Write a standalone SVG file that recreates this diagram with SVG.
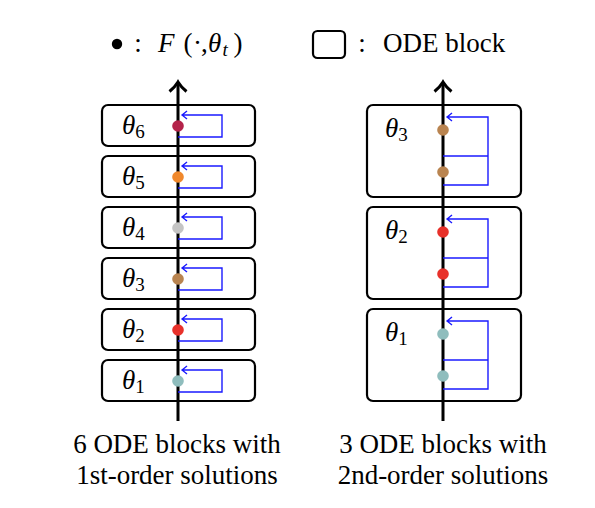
<svg xmlns="http://www.w3.org/2000/svg" width="595" height="508" viewBox="0 0 595 508" font-family="'Liberation Serif', 'Times New Roman', serif">
<defs>
<style>
text, tspan{font-family:'Liberation Serif','Times New Roman',serif}
text{fill:#000}
.t{font-size:27px}
.it{font-style:italic}
.sub{font-size:19px;font-style:normal}
.box{fill:#fff;stroke:#000;stroke-width:2.2}
.axis{stroke:#000;stroke-width:3;fill:none}
.loop{stroke:#1a1aff;stroke-width:1.4;fill:none}
</style>
</defs>
<rect width="595" height="508" fill="#fff"/>

<g id="legend">
<circle cx="117" cy="44" r="5.2" fill="#000"/>
<text class="t" x="138" y="52" text-anchor="middle">:</text>
<text class="t" y="52"><tspan class="it" x="158">F</tspan><tspan x="183.5">(</tspan><tspan x="193">·</tspan><tspan x="201">,</tspan><tspan class="it" x="208">θ</tspan><tspan class="it" x="222.5" dy="4" style="font-size:19px">t</tspan><tspan x="233.5" dy="-4">)</tspan></text>
<rect x="313" y="31" width="32" height="27" rx="4.5" fill="#fff" stroke="#000" stroke-width="2.2"/>
<text class="t" x="362" y="52" text-anchor="middle">:</text>
<text class="t" x="383" y="52">ODE block</text>
</g>

<g id="left-boxes">
<g id="L6"><rect class="box" x="102" y="105" width="153" height="41" rx="6"/><text class="t" x="122" y="134"><tspan class="it">θ</tspan><tspan class="sub" dy="4">6</tspan></text></g>
<g id="L5"><rect class="box" x="102" y="156" width="153" height="41" rx="6"/><text class="t" x="122" y="185"><tspan class="it">θ</tspan><tspan class="sub" dy="4">5</tspan></text></g>
<g id="L4"><rect class="box" x="102" y="207" width="153" height="41" rx="6"/><text class="t" x="122" y="236"><tspan class="it">θ</tspan><tspan class="sub" dy="4">4</tspan></text></g>
<g id="L3"><rect class="box" x="102" y="258" width="153" height="41" rx="6"/><text class="t" x="122" y="287"><tspan class="it">θ</tspan><tspan class="sub" dy="4">3</tspan></text></g>
<g id="L2"><rect class="box" x="102" y="309" width="153" height="41" rx="6"/><text class="t" x="122" y="338"><tspan class="it">θ</tspan><tspan class="sub" dy="4">2</tspan></text></g>
<g id="L1"><rect class="box" x="102" y="360" width="153" height="41" rx="6"/><text class="t" x="122" y="389"><tspan class="it">θ</tspan><tspan class="sub" dy="4">1</tspan></text></g>
</g>

<g id="right-boxes">
<g id="R3"><rect class="box" x="367" y="105" width="154" height="92" rx="6"/><text class="t" x="385" y="137"><tspan class="it">θ</tspan><tspan class="sub" dy="4">3</tspan></text></g>
<g id="R2"><rect class="box" x="367" y="207" width="154" height="92" rx="6"/><text class="t" x="385" y="239"><tspan class="it">θ</tspan><tspan class="sub" dy="4">2</tspan></text></g>
<g id="R1"><rect class="box" x="367" y="309" width="154" height="92" rx="6"/><text class="t" x="385" y="341"><tspan class="it">θ</tspan><tspan class="sub" dy="4">1</tspan></text></g>
</g>

<g id="connectors">
<path class="axis" d="M178,421 V83"/>
<path class="axis" d="M169.5,91.5 Q175,87 178,82 Q181,87 186.5,91.5"/>
<path class="axis" d="M443,421 V83"/>
<path class="axis" d="M434.5,91.5 Q440,87 443,82 Q446,87 451.5,91.5"/>

<path class="loop" d="M178,137 H222 V115 H182 M187,111 Q184,113.5 182,115 Q184,116.5 187,119"/>
<path class="loop" d="M178,188 H222 V166 H182 M187,162 Q184,164.5 182,166 Q184,167.5 187,170"/>
<path class="loop" d="M178,239 H222 V217 H182 M187,213 Q184,215.5 182,217 Q184,218.5 187,221"/>
<path class="loop" d="M178,290 H222 V268 H182 M187,264 Q184,266.5 182,268 Q184,269.5 187,272"/>
<path class="loop" d="M178,341 H222 V319 H182 M187,315 Q184,317.5 182,319 Q184,320.5 187,323"/>
<path class="loop" d="M178,392 H222 V370 H182 M187,366 Q184,368.5 182,370 Q184,371.5 187,374"/>

<path class="loop" d="M443,185 H488 V117 H447 M452,113 Q449,115.5 447,117 Q449,118.5 452,121"/>
<path class="loop" d="M443,156 H488"/>
<path class="loop" d="M443,287 H488 V219 H447 M452,215 Q449,217.5 447,219 Q449,220.5 452,223"/>
<path class="loop" d="M443,258 H488"/>
<path class="loop" d="M443,389 H488 V321 H447 M452,317 Q449,319.5 447,321 Q449,322.5 452,325"/>
<path class="loop" d="M443,360 H488"/>
</g>

<g id="dots">
<circle cx="178" cy="126" r="5.8" fill="#b4234a"/>
<circle cx="178" cy="177" r="5.8" fill="#f0882c"/>
<circle cx="178" cy="228" r="5.8" fill="#c4c4c4"/>
<circle cx="178" cy="279" r="5.8" fill="#b98450"/>
<circle cx="178" cy="330" r="5.8" fill="#e8312a"/>
<circle cx="178" cy="381" r="5.8" fill="#8fbdbd"/>
<circle cx="443" cy="130" r="5.8" fill="#b98450"/>
<circle cx="443" cy="172" r="5.8" fill="#b98450"/>
<circle cx="443" cy="232" r="5.8" fill="#e8312a"/>
<circle cx="443" cy="274" r="5.8" fill="#e8312a"/>
<circle cx="443" cy="334" r="5.8" fill="#8fbdbd"/>
<circle cx="443" cy="376" r="5.8" fill="#8fbdbd"/>
</g>

<g id="captions">
<text class="t" x="177" y="453" text-anchor="middle">6 ODE blocks with</text>
<text class="t" x="177" y="484" text-anchor="middle">1st-order solutions</text>
<text class="t" x="443" y="453" text-anchor="middle">3 ODE blocks with</text>
<text class="t" x="443" y="484" text-anchor="middle">2nd-order solutions</text>
</g>
</svg>
